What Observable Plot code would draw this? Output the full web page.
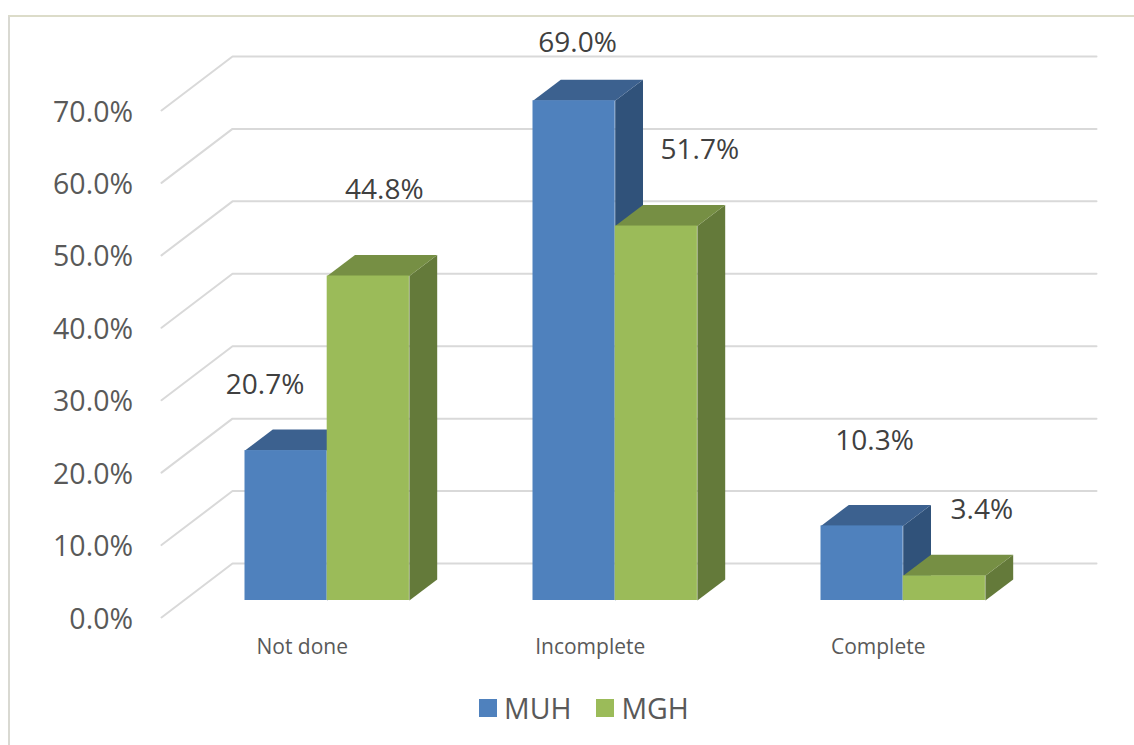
<!DOCTYPE html>
<html>
<head>
<meta charset="utf-8">
<script src="https://cdn.jsdelivr.net/npm/d3@7"></script>
<script src="https://cdn.jsdelivr.net/npm/@observablehq/plot@0.6"></script>
<style>
  html, body { margin: 0; padding: 0; background: #fff; }
  body { width: 1134px; height: 745px; overflow: hidden; position: relative; font-family: "Open Sans", sans-serif; }
  #frame { position: absolute; left: 8px; top: 15px; width: 1126px; height: 730px; box-sizing: border-box; border-left: 2.5px solid #d9d9d2; border-top: 2.5px solid #dcdcc9; }
  #chart { position: absolute; left: 0; top: 0; }
  #chart svg { display: block; background: transparent; }
  #legend { position: absolute; left: 479px; top: 687px; height: 42px; display: flex; align-items: center; font-size: 28.5px; color: #595959; line-height: 42px; }
  #legend i { display: inline-block; width: 18px; height: 18px; margin-right: 7px; }
  #legend span { margin-right: 25px; }
</style>
</head>
<body>
<div id="frame"></div>
<div id="chart"></div>
<div id="legend"></div>
<script>
// Data
const categories = ["Not done", "Incomplete", "Complete"];
const seriesNames = ["MUH", "MGH"];
const muhValues = [20.7, 69.0, 10.3];
const mghValues = [44.8, 51.7, 3.4];
const yTickValues = [0, 10, 20, 30, 40, 50, 60, 70];

// Styles
const palette = {
  MUH: {front: "#4f81bd", top: "#3c618f", side: "#30527a"},
  MGH: {front: "#9bbb59", top: "#768f44", side: "#647a3a"}
};

// Layout of the pseudo-3D scene (pixels)
const W = 1134, H = 680;
const pxPerCat = 288, pxPerPct = 7.243;
const originX = 244.5, baseY = 600;
const barW = 82.2, depthX = 27.8, depthY = 21;
const wallFrontX = 161, wallBackX = 232, gridRightX = 1096;
const wallFrontDY = 17, wallBackDY = 37;
// pixel offsets of each data label from its bar's top-centre (Excel manual layout)
const muhLabelShift = [[-21, -66], [3.5, -58], [12.5, -85]];
const mghLabelShift = [[16, -86], [43.5, -76], [37.5, -66]];

const ux = px => (px - originX) / pxPerCat;
const uy = px => px / pxPerPct;
const dX = ux(originX + depthX), dZ = uy(depthY), bW = ux(originX + barW);

const bars = categories.flatMap((category, c) => [
  {category, c, series: "MUH", s: 0, value: muhValues[c], shift: muhLabelShift[c]},
  {category, c, series: "MGH", s: 1, value: mghValues[c], shift: mghLabelShift[c]}
]).map(d => ({...d, xl: d.c + d.s * bW, xr: d.c + (d.s + 1) * bW}));

const grid = yTickValues.flatMap(v => [
  {v, x: ux(wallFrontX), y: v - uy(wallFrontDY)},
  {v, x: ux(wallBackX), y: v + uy(wallBackDY)},
  {v, x: ux(gridRightX), y: v + uy(wallBackDY)}
]);

const barMarks = bars.flatMap(b => {
  const p = palette[b.series], v = b.value;
  const side = [
    {x: b.xr, y1: 0, y2: v},
    {x: b.xr + dX, y1: dZ, y2: v + dZ}
  ];
  const top = [
    {x: b.xl, y1: v, y2: v},
    {x: b.xl + dX, y1: v, y2: v + dZ},
    {x: b.xr, y1: v, y2: v + dZ},
    {x: b.xr + dX, y1: v + dZ, y2: v + dZ}
  ];
  return [
    Plot.areaY(side, {x: "x", y1: "y1", y2: "y2", fill: p.side, dx: 0.5, dy: 0.5}),
    Plot.areaY(top, {x: "x", y1: "y1", y2: "y2", fill: p.top, dx: 0.5, dy: 0.5}),
    Plot.rect([b], {x1: "xl", x2: "xr", y1: 0, y2: "value", fill: p.front})
  ];
});

const fmt = v => v.toFixed(1) + "%";

const plot = Plot.plot({
  width: W, height: H,
  margin: 0,
  x: {type: "linear", domain: [ux(0), ux(W)], range: [0, W], axis: null},
  y: {type: "linear", domain: [uy(baseY - H), uy(baseY)], range: [H, 0], axis: null},
  style: {background: "transparent", fontFamily: "'Open Sans', sans-serif"},
  marks: [
    Plot.line(grid, {x: "x", y: "y", z: "v", stroke: "#d9d9d9", strokeWidth: 2, curve: "linear"}),
    ...barMarks,
    Plot.text(yTickValues, {
      x: () => ux(wallFrontX), y: v => v - uy(wallFrontDY), text: fmt,
      dx: -28.5, dy: 2, textAnchor: "end", fontSize: 28.5, fill: "#595959"
    }),
    Plot.text(categories, {
      x: (d, i) => i + bW, y: () => 0, text: d => d,
      dx: -25, dy: 47, textAnchor: "middle", fontSize: 21, fill: "#595959"
    }),
    Plot.text(bars, {
      x: d => (d.xl + d.xr) / 2 + d.shift[0] / pxPerCat,
      y: d => d.value - d.shift[1] / pxPerPct,
      text: d => fmt(d.value),
      textAnchor: "middle", fontSize: 28, fill: "#404040"
    })
  ]
});
document.getElementById("chart").append(plot);

document.getElementById("legend").innerHTML = seriesNames
  .map(n => `<i style="background:${palette[n].front}"></i><span>${n}</span>`)
  .join("");
</script>
</body>
</html>
